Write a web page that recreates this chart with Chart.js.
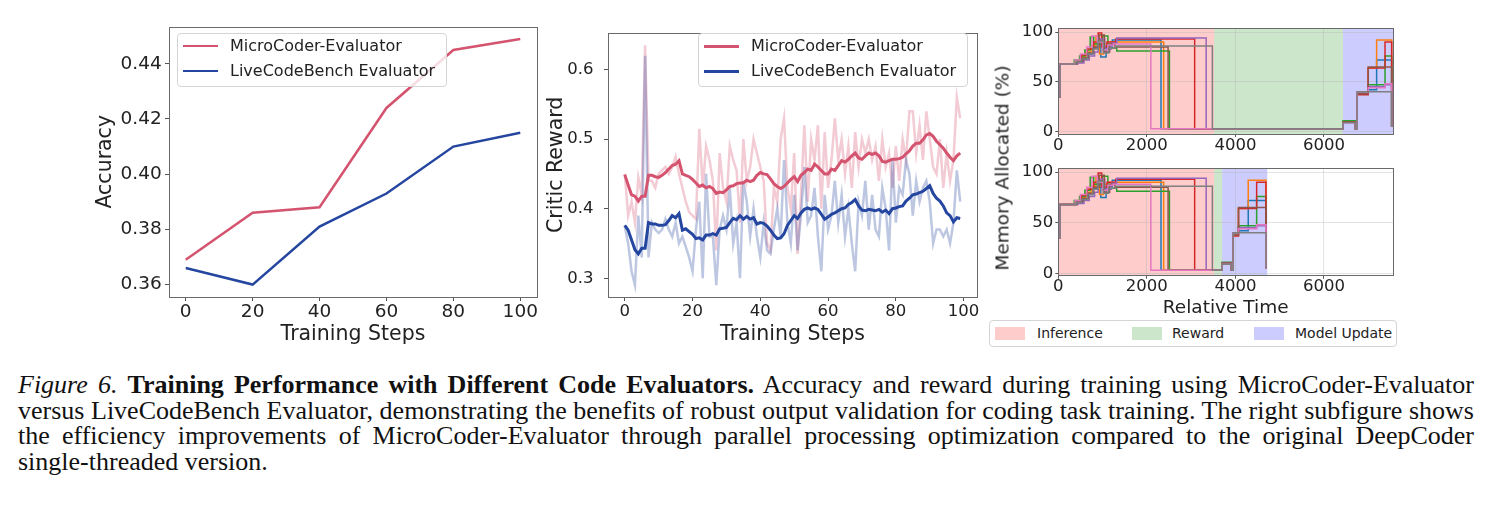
<!DOCTYPE html>
<html>
<head>
<meta charset="utf-8">
<script src="https://cdn.jsdelivr.net/npm/chart.js@4.4.0/dist/chart.umd.min.js"></script>
<style>
  body { margin: 0; background: #fff; }
  #page { position: relative; width: 1491px; height: 507px; overflow: hidden; font-family: "DejaVu Sans", sans-serif; color: #222; }
  canvas { position: absolute; }
  .legend { position: absolute; background: rgba(255,255,255,0.8); border: 1px solid #d4d4d4; border-radius: 4px; box-sizing: border-box; }
  .row { position: absolute; left: 0; height: 20px; font-size: 16px; line-height: 20px; white-space: nowrap; }
  .row .ln { position: absolute; left: 5px; width: 35px; top: 9px; }
  .row span { position: absolute; left: 52px; top: 0; }
  .patch { position: absolute; width: 30px; height: 13px; }
  .ptxt { position: absolute; font-size: 14px; line-height: 16px; white-space: nowrap; }
  #ylab { position: absolute; left: 1002px; top: 168px; font-size: 18.5px; white-space: nowrap; transform: translate(-50%, -50%) rotate(-90deg); }
  #cap { position: absolute; left: 18px; top: 372px; width: 1456px; font-family: "Liberation Serif", serif; font-size: 26px; line-height: 25.5px; color: #111; }
  #cap div { text-align: justify; text-align-last: justify; white-space: nowrap; }
  #cap div.last { text-align-last: left; }
</style>
</head>
<body>
<div id="page">
  <canvas id="accChart" width="465" height="336" style="left:80px;top:14px"></canvas>
  <canvas id="rewardChart" width="445" height="336" style="left:540px;top:14px"></canvas>
  <canvas id="memTop" width="415" height="136" style="left:985px;top:18px"></canvas>
  <canvas id="memBottom" width="415" height="161" style="left:985px;top:158px"></canvas>

  <div class="legend" style="left:177px;top:33px;width:270px;height:54px">
    <div class="row" style="top:2px"><div class="ln" style="border-top:2.5px solid #d4546f"></div><span>MicroCoder-Evaluator</span></div>
    <div class="row" style="top:27px"><div class="ln" style="border-top:2.5px solid #2546a0"></div><span>LiveCodeBench Evaluator</span></div>
  </div>
  <div class="legend" style="left:698px;top:33px;width:270px;height:54px">
    <div class="row" style="top:2px"><div class="ln" style="border-top:3px solid #d4546f"></div><span>MicroCoder-Evaluator</span></div>
    <div class="row" style="top:27px"><div class="ln" style="border-top:3px solid #2546a0"></div><span>LiveCodeBench Evaluator</span></div>
  </div>

  <div id="ylab">Memory Allocated (%)</div>

  <div class="legend" id="phaseLegend" style="left:989px;top:320px;width:408px;height:27px"></div>

  <div id="cap">
    <div><i>Figure 6.</i> <b>Training Performance with Different Code Evaluators.</b> Accuracy and reward during training using MicroCoder-Evaluator</div>
    <div>versus LiveCodeBench Evaluator, demonstrating the benefits of robust output validation for coding task training. The right subfigure shows</div>
    <div>the efficiency improvements of MicroCoder-Evaluator through parallel processing optimization compared to the original DeepCoder</div>
    <div class="last">single-threaded version.</div>
  </div>
</div>

<script>
// ---- left: accuracy
const accSteps = [0, 20, 40, 60, 80, 100];
const accMicro = [0.369, 0.386, 0.388, 0.424, 0.445, 0.449];
const accLive = [0.366, 0.360, 0.381, 0.393, 0.410, 0.415];
const accTicksY = [0.36, 0.38, 0.40, 0.42, 0.44];
const stepTicks = [0, 20, 40, 60, 80, 100];

// ---- middle: critic reward (steps 0..99)
const rewardMicroRaw = [0.45, 0.39, 0.41, 0.38, 0.445, 0.42, 0.635, 0.44, 0.44, 0.43,
  0.45, 0.455, 0.46, 0.45, 0.46, 0.475, 0.45, 0.43, 0.41, 0.395,
  0.39, 0.385, 0.515, 0.43, 0.49, 0.47, 0.44, 0.34, 0.48, 0.43,
  0.41, 0.49, 0.47, 0.455, 0.38, 0.50, 0.44, 0.46, 0.50, 0.48,
  0.46, 0.44, 0.35, 0.34, 0.43, 0.41, 0.50, 0.53, 0.43, 0.40,
  0.48, 0.335, 0.42, 0.52, 0.41, 0.50, 0.47, 0.52, 0.40, 0.51,
  0.43, 0.47, 0.53, 0.47, 0.50, 0.45, 0.49, 0.43, 0.51, 0.46,
  0.50, 0.48, 0.50, 0.47, 0.49, 0.44, 0.50, 0.46, 0.48, 0.43,
  0.49, 0.44, 0.50, 0.47, 0.54, 0.54, 0.48, 0.52, 0.47, 0.54,
  0.50, 0.46, 0.45, 0.50, 0.43, 0.48, 0.44, 0.47, 0.56, 0.53];
const rewardLiveRaw = [0.375, 0.35, 0.31, 0.29, 0.39, 0.33, 0.62, 0.33, 0.38, 0.37,
  0.365, 0.37, 0.385, 0.37, 0.36, 0.38, 0.35, 0.36, 0.345, 0.33,
  0.31, 0.37, 0.41, 0.30, 0.45, 0.36, 0.36, 0.29, 0.37, 0.39,
  0.37, 0.43, 0.35, 0.38, 0.30, 0.44, 0.41, 0.36, 0.40, 0.36,
  0.33, 0.38, 0.34, 0.335, 0.37, 0.40, 0.36, 0.47, 0.38, 0.35,
  0.42, 0.34, 0.39, 0.46, 0.38, 0.39, 0.43, 0.36, 0.31, 0.42,
  0.37, 0.39, 0.44, 0.38, 0.42, 0.36, 0.40, 0.35, 0.31, 0.41,
  0.39, 0.44, 0.37, 0.42, 0.37, 0.36, 0.43, 0.40, 0.34, 0.47,
  0.38, 0.43, 0.42, 0.47, 0.45, 0.39, 0.44, 0.41, 0.43, 0.44,
  0.41, 0.35, 0.37, 0.37, 0.36, 0.37, 0.35, 0.38, 0.455, 0.41];
const rewardMicroSmooth = [0.449, 0.434, 0.420, 0.418, 0.411, 0.418, 0.418, 0.448, 0.448, 0.446,
  0.445, 0.448, 0.452, 0.457, 0.462, 0.464, 0.469, 0.450, 0.448, 0.446,
  0.442, 0.437, 0.432, 0.434, 0.430, 0.432, 0.429, 0.422, 0.424, 0.423,
  0.427, 0.432, 0.433, 0.436, 0.437, 0.437, 0.441, 0.439, 0.441, 0.448,
  0.452, 0.450, 0.449, 0.443, 0.436, 0.432, 0.429, 0.432, 0.437, 0.442,
  0.446, 0.439, 0.448, 0.452, 0.457, 0.455, 0.464, 0.460, 0.455, 0.450,
  0.450, 0.457, 0.455, 0.462, 0.469, 0.467, 0.471, 0.476, 0.480, 0.473,
  0.471, 0.476, 0.480, 0.478, 0.480, 0.476, 0.468, 0.467, 0.469, 0.471,
  0.471, 0.472, 0.474, 0.479, 0.483, 0.490, 0.494, 0.494, 0.499, 0.506,
  0.508, 0.504, 0.497, 0.492, 0.487, 0.480, 0.474, 0.469, 0.476, 0.480];
const rewardLiveSmooth = [0.376, 0.369, 0.355, 0.341, 0.335, 0.343, 0.343, 0.380, 0.378, 0.378,
  0.376, 0.376, 0.377, 0.383, 0.390, 0.387, 0.393, 0.369, 0.371, 0.367,
  0.363, 0.357, 0.358, 0.355, 0.362, 0.362, 0.364, 0.362, 0.371, 0.372,
  0.373, 0.380, 0.386, 0.384, 0.390, 0.385, 0.389, 0.385, 0.387, 0.378,
  0.380, 0.379, 0.375, 0.369, 0.362, 0.357, 0.358, 0.364, 0.376, 0.383,
  0.390, 0.386, 0.394, 0.399, 0.401, 0.399, 0.401, 0.399, 0.392, 0.385,
  0.388, 0.392, 0.394, 0.397, 0.400, 0.401, 0.406, 0.409, 0.413, 0.404,
  0.398, 0.397, 0.399, 0.398, 0.397, 0.399, 0.395, 0.398, 0.393, 0.400,
  0.401, 0.403, 0.404, 0.411, 0.415, 0.420, 0.421, 0.423, 0.425, 0.429,
  0.433, 0.422, 0.415, 0.411, 0.404, 0.394, 0.390, 0.381, 0.387, 0.386];
const rewardTicksY = [0.3, 0.4, 0.5, 0.6];

// ---- right: memory per GPU (step lines)
const memTicksX = [0, 2000, 4000, 6000];
const memTicksY = [0, 50, 100];
const gpuColors = ['#1f77b4', '#ff7f0e', '#2ca02c', '#d62728', '#9467bd', '#8c564b', '#e377c2', '#7f7f7f'];
const inferTimes = [
  [0, 40, 420, 540, 660, 780, 880, 960, 1080, 1220, 2320],
  [0, 40, 380, 500, 620, 740, 850, 930, 1020, 1180, 2380],
  [0, 40, 360, 480, 600, 720, 800, 1000, 1120, 1320, 2510],
  [0, 40, 400, 520, 650, 800, 900, 980, 1100, 1300, 3080],
  [0, 40, 440, 580, 700, 820, 900, 1050, 1200, 1320, 3340],
  [0, 40, 420, 560, 680, 800, 920, 1040, 1160, 1280, 2480],
  [0, 40, 380, 500, 640, 760, 880, 1000, 1120, 1240, 2090],
  [0, 40, 400, 520, 660, 780, 900, 1020, 1140, 1300, 3480]
];
const inferMem = [
  [35, 68, 70, 74, 78, 84, 92, 75, 86, 92, 3],
  [35, 68, 71, 75, 80, 86, 96, 78, 88, 90, 3],
  [35, 68, 72, 76, 82, 95, 88, 96, 84, 81, 3],
  [35, 68, 70, 77, 83, 90, 99, 85, 90, 93, 3],
  [35, 68, 69, 72, 76, 80, 93, 83, 89, 94, 3],
  [35, 68, 71, 74, 79, 85, 97, 80, 88, 85, 3],
  [35, 68, 72, 78, 85, 96, 90, 82, 87, 88, 3],
  [35, 68, 70, 73, 78, 83, 91, 79, 84, 86, 3]
];
const updateTimesTop = [6430, 6710, 6750, 7000, 7190, 7380, 7530];
const updateTimesBottom = [3700, 3910, 3950, 4070, 4290, 4480, 4690];
const updateMem = [
  [10, 3, 40, 42, 72, 72, 5],
  [10, 3, 38, 64, 92, 92, 5],
  [11, 3, 40, 47, 47, 76, 5],
  [10, 3, 37, 64, 64, 90, 5],
  [10, 3, 40, 45, 45, 47, 5],
  [10, 3, 38, 65, 65, 65, 5],
  [9, 3, 40, 44, 44, 48, 5],
  [9, 3, 40, 40, 40, 40, 5]
];
const phaseNames = ['Inference', 'Reward', 'Model Update'];
const phaseColors = ['rgba(255,0,0,0.2)', 'rgba(0,128,0,0.2)', 'rgba(0,0,255,0.2)'];
const phasesTop = [[0, 3520], [3520, 6430], [6430, 7560]];
const phasesBottom = [[0, 3520], [3520, 3700], [3700, 4720]];

Chart.defaults.font.family = '"DejaVu Sans", sans-serif';
Chart.defaults.color = '#222';
Chart.defaults.animation = false;

// box around the plot area, like the matplotlib spines
const frame = {
  id: 'frame',
  afterDraw(chart) {
    const a = chart.chartArea, ctx = chart.ctx;
    ctx.save();
    ctx.strokeStyle = '#6a6a6a';
    ctx.lineWidth = 1;
    ctx.strokeRect(Math.round(a.left) + 0.5, Math.round(a.top) + 0.5, Math.round(a.right - a.left), Math.round(a.bottom - a.top));
    ctx.restore();
  }
};

// shaded phase spans behind the memory lines
const phaseShade = {
  id: 'phaseShade',
  beforeDraw(chart, args, opts) {
    if (!opts.spans) return;
    const a = chart.chartArea, ctx = chart.ctx, xs = chart.scales.x;
    ctx.save();
    ctx.beginPath();
    ctx.rect(a.left, a.top, a.right - a.left, a.bottom - a.top);
    ctx.clip();
    opts.spans.forEach((s, i) => {
      const x0 = xs.getPixelForValue(s[0]);
      const x1 = xs.getPixelForValue(s[1]);
      ctx.fillStyle = phaseColors[i];
      ctx.fillRect(x0, a.top, x1 - x0, a.bottom - a.top);
    });
    ctx.restore();
  }
};

function tickGrid(onArea) {
  return { drawOnChartArea: onArea, color: 'rgba(176,176,176,0.35)', tickLength: 4, tickColor: '#555', tickWidth: 1 };
}

// ---- accuracy chart
new Chart(document.getElementById('accChart'), {
  type: 'line',
  data: {
    datasets: [
      { label: 'MicroCoder-Evaluator', data: accSteps.map((s, i) => ({ x: s, y: accMicro[i] })), borderColor: '#d4546f', borderWidth: 2.5, pointRadius: 0, order: 1 },
      { label: 'LiveCodeBench Evaluator', data: accSteps.map((s, i) => ({ x: s, y: accLive[i] })), borderColor: '#2546a0', borderWidth: 2.5, pointRadius: 0, order: 0 }
    ]
  },
  options: {
    responsive: false,
    devicePixelRatio: 1,
    layout: { padding: { top: 10, right: 8, left: 0, bottom: 0 } },
    plugins: { legend: { display: false }, tooltip: { enabled: false } },
    scales: {
      x: {
        type: 'linear', min: -5, max: 105,
        afterBuildTicks: s => { s.ticks = stepTicks.map(v => ({ value: v })); },
        afterFit: s => { s.height = 53; },
        ticks: { font: { size: 18.5, lineHeight: 1 }, padding: 1.5, maxRotation: 0, autoSkip: false },
        grid: tickGrid(false),
        border: { display: false },
        title: { display: true, text: 'Training Steps', font: { size: 20.5, lineHeight: 1 }, padding: { bottom: 4.75 } }
      },
      y: {
        type: 'linear', min: 0.3555, max: 0.4535,
        afterBuildTicks: s => { s.ticks = accTicksY.map(v => ({ value: v })); },
        afterFit: s => { s.width = 89; },
        ticks: { font: { size: 18.5, lineHeight: 1 }, padding: 3.3, callback: v => v.toFixed(2) },
        grid: tickGrid(false),
        border: { display: false },
        title: { display: true, text: 'Accuracy', font: { size: 20.5, lineHeight: 1 }, padding: { top: 15.5 } }
      }
    }
  },
  plugins: [frame]
});

// ---- critic reward chart
new Chart(document.getElementById('rewardChart'), {
  type: 'line',
  data: {
    datasets: [
      { label: 'MicroCoder raw', data: rewardMicroRaw.map((v, i) => ({ x: i, y: v })), borderColor: 'rgba(212,84,111,0.3)', borderWidth: 2.5, pointRadius: 0, order: 3 },
      { label: 'LiveCodeBench raw', data: rewardLiveRaw.map((v, i) => ({ x: i, y: v })), borderColor: 'rgba(37,70,160,0.3)', borderWidth: 2.5, pointRadius: 0, order: 2 },
      { label: 'MicroCoder-Evaluator', data: rewardMicroSmooth.map((v, i) => ({ x: i, y: v })), borderColor: '#d4546f', borderWidth: 3, pointRadius: 0, order: 1 },
      { label: 'LiveCodeBench Evaluator', data: rewardLiveSmooth.map((v, i) => ({ x: i, y: v })), borderColor: '#2546a0', borderWidth: 3, pointRadius: 0, order: 0 }
    ]
  },
  options: {
    responsive: false,
    devicePixelRatio: 1,
    layout: { padding: { top: 10, right: 8, left: 0, bottom: 0 } },
    plugins: { legend: { display: false }, tooltip: { enabled: false } },
    scales: {
      x: {
        type: 'linear', min: -4.95, max: 103.95,
        afterBuildTicks: s => { s.ticks = stepTicks.map(v => ({ value: v })); },
        afterFit: s => { s.height = 53; },
        ticks: { font: { size: 16.5, lineHeight: 1 }, padding: 2.5, maxRotation: 0, autoSkip: false },
        grid: tickGrid(false),
        border: { display: false },
        title: { display: true, text: 'Training Steps', font: { size: 20.5, lineHeight: 1 }, padding: { bottom: 4.75 } }
      },
      y: {
        type: 'linear', min: 0.273, max: 0.653,
        afterBuildTicks: s => { s.ticks = rewardTicksY.map(v => ({ value: v })); },
        afterFit: s => { s.width = 68; },
        ticks: { font: { size: 16.5, lineHeight: 1 }, padding: 10.5, callback: v => v.toFixed(1) },
        grid: tickGrid(false),
        border: { display: false },
        title: { display: true, text: 'Critic Reward', font: { size: 20.5, lineHeight: 1 }, padding: { top: 6.4 } }
      }
    }
  },
  plugins: [frame]
});

// ---- memory charts
function memDatasets(updTimes) {
  return gpuColors.map((c, g) => ({
    label: 'GPU ' + g,
    data: inferTimes[g].map((t, i) => ({ x: t, y: inferMem[g][i] }))
      .concat(updTimes.map((t, i) => ({ x: t, y: updateMem[g][i] }))),
    borderColor: c,
    borderWidth: 1.5,
    pointRadius: 0,
    stepped: true,
    order: 7 - g
  }));
}

function memOptions(spans, xHeight, showTitle) {
  return {
    responsive: false,
    devicePixelRatio: 1,
    layout: { padding: { top: 8.7, right: 7, left: 0, bottom: 0 } },
    plugins: { legend: { display: false }, tooltip: { enabled: false }, phaseShade: { spans: spans } },
    scales: {
      x: {
        type: 'linear', min: 0, max: 7560,
        afterBuildTicks: s => { s.ticks = memTicksX.map(v => ({ value: v })); },
        afterFit: s => { s.height = xHeight; },
        ticks: { font: { size: 16.5, lineHeight: 1 }, padding: 0, maxRotation: 0, autoSkip: false, callback: v => String(v) },
        grid: Object.assign(tickGrid(true), { tickLength: 3 }),
        border: { display: false },
        title: { display: showTitle, text: 'Relative Time', font: { size: 18.5, lineHeight: 1 }, padding: { bottom: 1.75 } }
      },
      y: {
        type: 'linear', min: -2.3, max: 103.8,
        afterBuildTicks: s => { s.ticks = memTicksY.map(v => ({ value: v })); },
        afterFit: s => { s.width = 73.3; },
        ticks: { font: { size: 16.5, lineHeight: 1 }, padding: 2, callback: v => String(v) },
        grid: Object.assign(tickGrid(true), { tickLength: 3 }),
        border: { display: false }
      }
    }
  };
}

new Chart(document.getElementById('memTop'), {
  type: 'line',
  data: { datasets: memDatasets(updateTimesTop) },
  options: memOptions(phasesTop, 20, false),
  plugins: [phaseShade, frame]
});

new Chart(document.getElementById('memBottom'), {
  type: 'line',
  data: { datasets: memDatasets(updateTimesBottom) },
  options: memOptions(phasesBottom, 43.3, true),
  plugins: [phaseShade, frame]
});

// phase legend under the memory charts
const phaseLegend = document.getElementById('phaseLegend');
const patchX = [5, 142, 264];
const textX = [47, 182, 305];
phaseNames.forEach((name, i) => {
  const p = document.createElement('div');
  p.className = 'patch';
  p.style.left = patchX[i] + 'px';
  p.style.top = '6px';
  p.style.background = phaseColors[i];
  phaseLegend.appendChild(p);
  const t = document.createElement('div');
  t.className = 'ptxt';
  t.style.left = textX[i] + 'px';
  t.style.top = '4px';
  t.textContent = name;
  phaseLegend.appendChild(t);
});
</script>
</body>
</html>
